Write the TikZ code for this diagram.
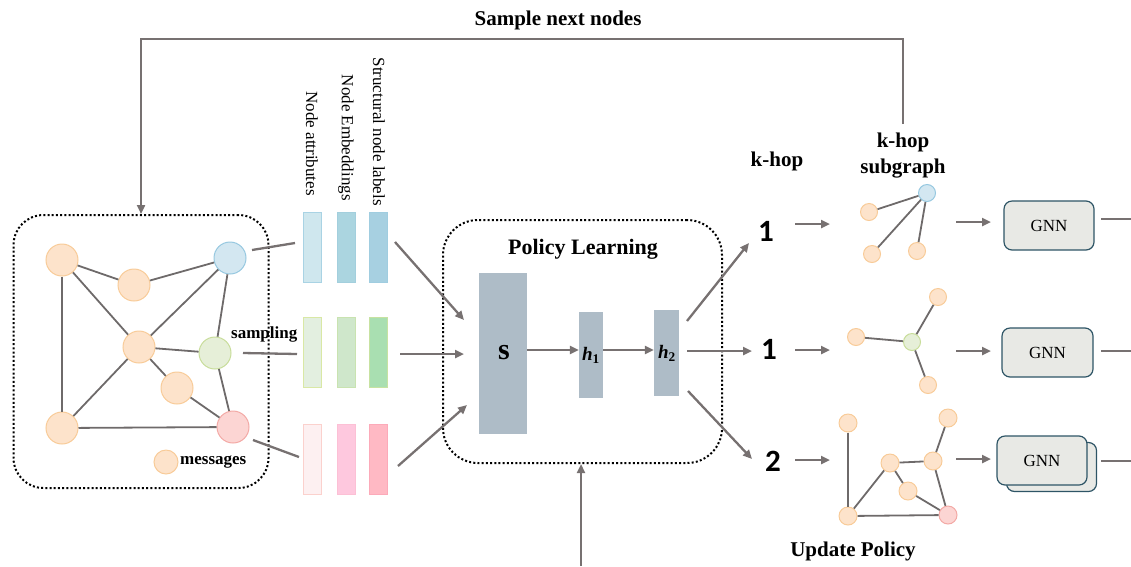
\documentclass[tikz,border=0pt]{standalone}
\usepackage{fontspec}
\setmainfont{Liberation Serif}
\newfontfamily\numfont{Carlito}
\usetikzlibrary{arrows.meta}
\definecolor{lg}{HTML}{777171}
\definecolor{eg}{HTML}{6E6A6A}
\definecolor{orF}{HTML}{FDE3CB}\definecolor{orD}{HTML}{F8CB98}
\definecolor{blF}{HTML}{D3E7F1}\definecolor{blD}{HTML}{96C8E0}
\definecolor{grF}{HTML}{E6EFD8}\definecolor{grD}{HTML}{C8DD9A}
\definecolor{pkF}{HTML}{FCD5D3}\definecolor{pkD}{HTML}{F3A9A5}
\definecolor{boxF}{HTML}{AEBCC7}
\definecolor{gnnF}{HTML}{E8E9E5}\definecolor{gnnD}{HTML}{2E5566}
\begin{document}
\begin{tikzpicture}[x=1pt,y=-1pt,
  gline/.style={draw=lg,line width=2.3pt},
  arr/.style={gline,-{Triangle[length=9pt,width=8pt]}},
  edge/.style={draw=eg,line width=1.8pt},
  dotbox/.style={draw=black,line width=2pt,dash pattern=on 2pt off 2.2pt,rounded corners=30pt,inner sep=0pt},
  cnode/.style={circle,inner sep=0pt,line width=1pt,minimum size=#1},
  onode/.style={cnode=#1,fill=orF,draw=orD},
  bnode/.style={cnode=#1,fill=blF,draw=blD},
  gnode/.style={cnode=#1,fill=grF,draw=grD},
  pnode/.style={cnode=#1,fill=pkF,draw=pkD},
  bar/.style={minimum width=18pt,minimum height=70pt,inner sep=0pt,line width=1pt},
  vlab/.style={rotate=-90,anchor=east,font=\fontsize{17}{20}\selectfont,inner sep=0pt},
  blab/.style={font=\fontsize{21}{26}\selectfont\bfseries,align=center},
  layer/.style={fill=boxF,inner sep=0pt},
  num/.style={font=\fontsize{31}{34}\selectfont\numfont\bfseries},
  gnn/.style={draw=gnnD,fill=gnnF,line width=1.2pt,rounded corners=8pt,minimum width=90pt,minimum height=49pt,font=\fontsize{17}{20}\selectfont}
]
\useasboundingbox (0,0) rectangle (1131,566);

% ---------- left graph ----------
\node[dotbox,minimum width=255pt,minimum height=273pt] (gbox) at (141,351.5) {};
\node[onode=32pt] (A) at (62,260) {};
\node[onode=32pt] (B) at (134,285) {};
\node[bnode=32pt] (C) at (230,258) {};
\node[onode=32pt] (D) at (139,347) {};
\node[gnode=32pt] (E) at (215,353) {};
\node[onode=32pt] (F) at (177,388) {};
\node[onode=32pt] (G) at (62,428) {};
\node[pnode=32pt] (H) at (233,427) {};
\foreach \a/\b in {A/B,B/C,A/G,A/D,C/D,C/E,D/E,D/F,D/G,F/H,E/H,G/H}
  \draw[edge] (\a) -- (\b);
\node[onode=24pt] (msg) at (166,462) {};
\node[anchor=west,font=\fontsize{17}{20}\selectfont\bfseries,inner sep=0pt] (msgl) at (180,462) {messages};
\node[anchor=west,font=\fontsize{17}{20}\selectfont\bfseries,inner sep=0pt] (samp) at (231,334) {sampling};

% ---------- feature bars ----------
\node[bar,fill={rgb,255:red,207;green,231;blue,238},draw={rgb,255:red,169;green,211;blue,228}] (a1) at (312,247) {};
\node[bar,fill={rgb,255:red,171;green,213;blue,224},draw={rgb,255:red,163;green,207;blue,221}] (b1) at (346,247) {};
\node[bar,fill={rgb,255:red,167;green,208;blue,225},draw={rgb,255:red,160;green,205;blue,224}] (c1) at (378.5,247) {};
\node[bar,fill={rgb,255:red,227;green,239;blue,224},draw={rgb,255:red,217;green,232;blue,165}] (a2) at (312,352.5) {};
\node[bar,fill={rgb,255:red,207;green,231;blue,203},draw={rgb,255:red,201;green,227;blue,176}] (b2) at (346,352.5) {};
\node[bar,fill={rgb,255:red,169;green,223;blue,177},draw={rgb,255:red,199;green,226;blue,161}] (c2) at (378.5,352.5) {};
\node[bar,fill={rgb,255:red,253;green,240;blue,241},draw={rgb,255:red,251;green,209;blue,205}] (a3) at (312,459) {};
\node[bar,fill={rgb,255:red,254;green,200;blue,222},draw={rgb,255:red,252;green,192;blue,213}] (b3) at (346,459) {};
\node[bar,fill={rgb,255:red,255;green,185;blue,196},draw={rgb,255:red,252;green,170;blue,185}] (c3) at (378.5,459) {};
\node[vlab] (la) at (312,196) {Node attributes};
\node[vlab] (lb) at (346,201) {Node Embeddings};
\node[vlab] (lc) at (379,206) {Structural node labels};

% graph -> bars
\coordinate (s1) at (252,250); \coordinate (t1) at (295,243);
\coordinate (s2) at (243,353); \coordinate (t2) at (297,354);
\coordinate (s3) at (253,440); \coordinate (t3) at (299,457);
\draw[gline] (s1) -- (t1);
\draw[gline] (s2) -- (t2);
\draw[gline] (s3) -- (t3);

% ---------- policy learning ----------
\node[dotbox,rounded corners=35pt,minimum width=279pt,minimum height=243pt] (pbox) at (582.5,341.5) {};
\node[font=\fontsize{22}{26}\selectfont\bfseries] (ptitle) at (583,249) {Policy Learning};
\node[layer,minimum width=48pt,minimum height=161pt] (S) at (503,353.5) {};
\node[font=\fontsize{30}{32}\selectfont\bfseries] (Sl) at (504,353) {s};
\node[layer,minimum width=24pt,minimum height=86pt] (h1) at (591,355) {};
\node[layer,minimum width=25pt,minimum height=86pt] (h2) at (666.5,353) {};
\node[font=\fontsize{19}{20}\selectfont] (h1l) at (591,355) {\textbf{\textit{h}}$_{\mathbf{1}}$};
\node[font=\fontsize{19}{20}\selectfont] (h2l) at (667,353) {\textbf{\textit{h}}$_{\mathbf{2}}$};
\draw[arr] (S.east |- 0,350) -- (h1.west |- 0,350);
\draw[arr] (h1.east |- 0,350) -- (h2.west |- 0,350);

% bars -> policy
\coordinate (u1) at (395,242); \coordinate (v1) at (464,320);
\coordinate (u2) at (400,354); \coordinate (v2) at (464,354);
\coordinate (u3) at (398,466); \coordinate (v3) at (467,405);
\draw[arr] (u1) -- (v1);
\draw[arr] (u2) -- (v2);
\draw[arr] (u3) -- (v3);

% ---------- hop numbers ----------
\node[num] (n1) at (766,231) {1};
\node[num] (n2) at (769,349) {1};
\node[num] (n3) at (773,461) {2};
\node[blab] (khop) at (777,161) {k-hop};
\node[blab] (ksub) at (903,156) {k-hop\\subgraph};
\coordinate (w1) at (687,321); \coordinate (z1) at (749,243);
\coordinate (w2) at (687,351); \coordinate (z2) at (752,351);
\coordinate (w3) at (688,391); \coordinate (z3) at (752,459);
\draw[arr] (w1) -- (z1);
\draw[arr] (w2) -- (z2);
\draw[arr] (w3) -- (z3);

\foreach \i/\y in {1/224,2/350,3/460}{
  \coordinate (p\i) at (795,\y); \coordinate (q\i) at (830,\y);
  \draw[arr] (p\i) -- (q\i);
}

% ---------- subgraphs ----------
\node[bnode=17pt] (k1c) at (927,193) {};
\node[onode=17pt] (k1a) at (869,212) {};
\node[onode=17pt] (k1b) at (872,254) {};
\node[onode=17pt] (k1d) at (917,251) {};
\foreach \b in {k1a,k1b,k1d} \draw[edge] (k1c) -- (\b);

\node[gnode=17pt] (k2c) at (912,342) {};
\node[onode=17pt] (k2a) at (856,337) {};
\node[onode=17pt] (k2b) at (938,297) {};
\node[onode=17pt] (k2d) at (928,385) {};
\foreach \b in {k2a,k2b,k2d} \draw[edge] (k2c) -- (\b);

\node[onode=18pt] (k3a) at (848,423) {};
\node[onode=18pt] (k3b) at (948,418) {};
\node[onode=18pt] (k3c) at (890,463) {};
\node[onode=18pt] (k3d) at (933,461) {};
\node[onode=18pt] (k3e) at (908,491) {};
\node[onode=18pt] (k3f) at (848,516) {};
\node[pnode=18pt] (k3g) at (948,515) {};
\foreach \a/\b in {k3a/k3f,k3f/k3c,k3c/k3d,k3d/k3b,k3c/k3e,k3e/k3g,k3d/k3g,k3f/k3g}
  \draw[edge] (\a) -- (\b);

% ---------- GNN ----------
\foreach \i/\y in {1/222,2/351,3/459}{
  \coordinate (x\i) at (956,\y); \coordinate (y\i) at (991,\y);
  \draw[arr] (x\i) -- (y\i);
}
\node[gnn] (g1) at (1049,225.5) {GNN};
\node[gnn,minimum width=91pt] (g2) at (1047.5,352.5) {GNN};
\node[gnn] (g3b) at (1051.5,467) {};
\node[gnn] (g3) at (1042,460.5) {GNN};
\coordinate (e1) at (1101,219); \coordinate (f1) at (1131,219);
\coordinate (e2) at (1101,351); \coordinate (f2) at (1131,351);
\coordinate (e3) at (1101,461); \coordinate (f3) at (1131,461);
\draw[gline] (e1) -- (f1);
\draw[gline] (e2) -- (f2);
\draw[gline] (e3) -- (f3);

% ---------- feedback loops ----------
\node[font=\fontsize{21}{24}\selectfont\bfseries] (samplenext) at (558,20) {Sample next nodes};
\coordinate (fb) at (903,124);
\draw[arr] (fb) -- ++(0,-85) -| (gbox.north);
\node[font=\fontsize{21}{24}\selectfont\bfseries] (upd) at (853,551) {Update Policy};
\coordinate (ub) at (581,566);
\draw[arr] (ub) -- (ub |- pbox.south);
\end{tikzpicture}
\end{document}
